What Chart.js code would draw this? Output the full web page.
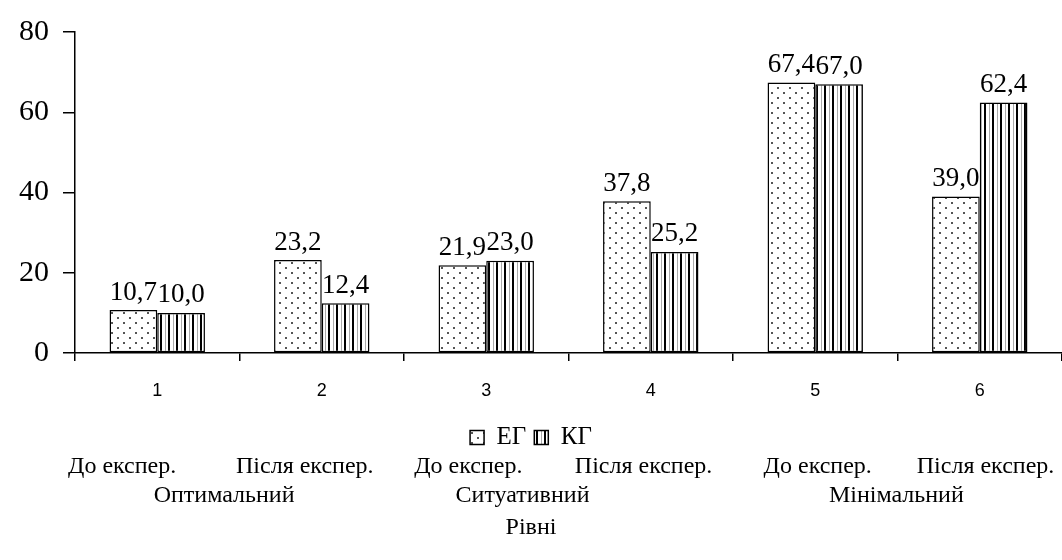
<!DOCTYPE html>
<html>
<head>
<meta charset="utf-8">
<script src="https://cdn.jsdelivr.net/npm/chart.js@4.4.1/dist/chart.umd.min.js"></script>
<style>
  html, body { margin: 0; padding: 0; background: #fff; }
  #wrap { width: 1062px; height: 560px; }
</style>
</head>
<body>
<div id="wrap"><canvas id="chart"></canvas></div>
<script>
const categories = ['1', '2', '3', '4', '5', '6'];
const egValues = [10.7, 23.2, 21.9, 37.8, 67.4, 39.0];
const kgValues = [10.0, 12.4, 23.0, 25.2, 67.0, 62.4];
const seriesNames = ['ЕГ', 'КГ'];
const yTicks = [0, 20, 40, 60, 80];
const phaseLabels = ['До експер.', 'Після експер.', 'До експер.', 'Після експер.', 'До експер.', 'Після експер.'];
const levelLabels = ['Оптимальний', 'Ситуативний', 'Мінімальний'];
const axisTitle = 'Рівні';

const serif = "'Liberation Serif', 'Times New Roman', serif";

function dotPattern() {
    const c = document.createElement('canvas');
    c.width = 12; c.height = 10;
    const g = c.getContext('2d');
    g.fillStyle = '#fff';
    g.fillRect(0, 0, 12, 10);
    g.fillStyle = '#555';
    g.fillRect(3, 2, 2, 2);
    g.fillRect(9, 7, 2, 2);
    return g.createPattern(c, 'repeat');
}

function stripePattern() {
    const c = document.createElement('canvas');
    c.width = 8; c.height = 8;
    const g = c.getContext('2d');
    g.fillStyle = '#fff';
    g.fillRect(0, 0, 8, 8);
    g.fillStyle = '#000';
    g.fillRect(0, 0, 2, 8);
    g.fillStyle = '#aaa';
    g.fillRect(5, 0, 1, 8);
    return g.createPattern(c, 'repeat');
}

const valueLabels = {
    id: 'valueLabels',
    afterDatasetsDraw(chart) {
        const ctx = chart.ctx;
        ctx.save();
        ctx.font = '27px ' + serif;
        ctx.fillStyle = '#000';
        ctx.textAlign = 'center';
        ctx.textBaseline = 'bottom';
        chart.data.datasets.forEach((ds, i) => {
            chart.getDatasetMeta(i).data.forEach((bar, j) => {
                const txt = ds.data[j].toFixed(1).replace('.', ',');
                ctx.fillText(txt, bar.x, bar.y - 4);
            });
        });
        ctx.restore();
    }
};

const bottomText = {
    id: 'bottomText',
    afterDraw(chart) {
        const ctx = chart.ctx;
        const w = chart.width;
        ctx.save();
        ctx.fillStyle = '#000';
        ctx.textAlign = 'center';
        ctx.textBaseline = 'middle';
        ctx.font = '24px ' + serif;
        const phaseX = [0.115, 0.287, 0.441, 0.606, 0.770, 0.928];
        phaseLabels.forEach((t, i) => ctx.fillText(t, phaseX[i] * w, 467));
        const levelX = [0.211, 0.492, 0.844];
        levelLabels.forEach((t, i) => ctx.fillText(t, levelX[i] * w, 496));
        ctx.fillText(axisTitle, 0.5 * w, 528);
        ctx.restore();
    }
};

new Chart(document.getElementById('chart'), {
    type: 'bar',
    data: {
        labels: categories,
        datasets: [{
            label: seriesNames[0],
            data: egValues,
            backgroundColor: dotPattern(),
            borderColor: '#000',
            borderWidth: 1.5,
            borderSkipped: false
        }, {
            label: seriesNames[1],
            data: kgValues,
            backgroundColor: stripePattern(),
            borderColor: '#000',
            borderWidth: 1.5,
            borderSkipped: false
        }]
    },
    options: {
        responsive: true,
        maintainAspectRatio: false,
        animation: false,
        datasets: {
            bar: { categoryPercentage: 0.58, barPercentage: 1 }
        },
        layout: { padding: { top: 10, right: 0, left: 0, bottom: 100 } },
        plugins: {
            legend: {
                position: 'bottom',
                labels: {
                    color: '#000',
                    font: { family: serif, size: 25 },
                    boxWidth: 14,
                    boxHeight: 14,
                    padding: 8
                }
            },
            tooltip: { enabled: false }
        },
        scales: {
            x: {
                border: { color: '#000', width: 1.5 },
                grid: { drawOnChartArea: false, color: '#000', tickLength: 8, lineWidth: 1.5 },
                ticks: { color: '#000', font: { family: "'Liberation Sans', Arial, sans-serif", size: 18 }, padding: 19 },
                afterFit(scale) { scale.height = 64; }
            },
            y: {
                min: 0,
                max: 80,
                afterBuildTicks(scale) { scale.ticks = yTicks.map(v => ({ value: v })); },
                border: { color: '#000', width: 1.5 },
                grid: { drawOnChartArea: false, color: '#000', tickLength: 12, lineWidth: 1.5 },
                ticks: { color: '#000', font: { family: serif, size: 30 }, padding: 14 },
                afterFit(scale) { scale.width = 75; }
            }
        }
    },
    plugins: [valueLabels, bottomText]
});
</script>
</body>
</html>
